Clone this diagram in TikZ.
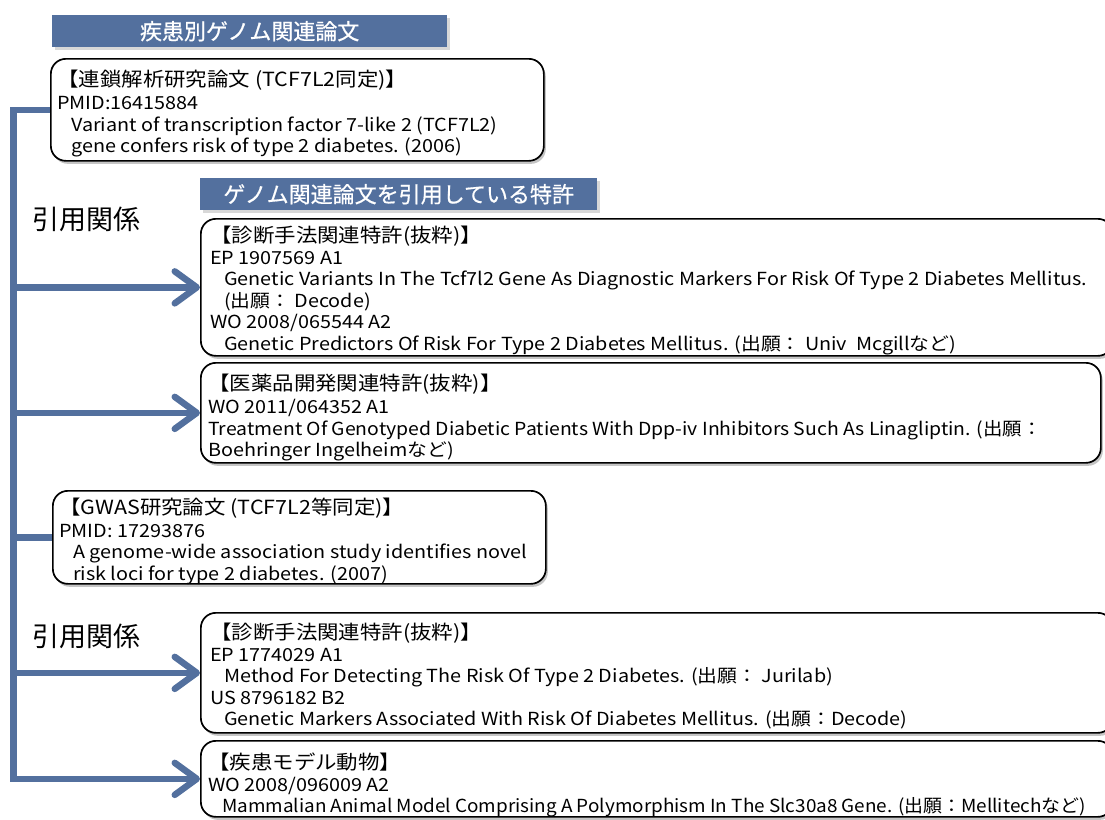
\documentclass[tikz,border=0pt]{standalone}
\usepackage{fontspec}
\usepackage{graphicx}
\setmainfont[FakeStretch=1.1]{Noto Sans CJK JP}
\newfontfamily\banfont[FakeBold=0.6]{Noto Sans CJK JP}
\newfontfamily\relfont{Noto Sans CJK JP}
\usetikzlibrary{arrows.meta,shadows}
\definecolor{navy}{HTML}{53709E}
\newcommand{\hd}[1]{{\fontsize{19.5}{21}\selectfont #1}}
\newcommand{\ind}{\hspace*{14pt}}
\begin{document}
\begin{tikzpicture}[x=1pt,y=-1pt,
  boxframe/.style={draw=black, line width=1.7pt, rounded corners=15pt, fill=white,
    drop shadow={shadow xshift=2pt,shadow yshift=-3pt,fill=black!45},
    anchor=north west, inner sep=0pt},
  banner/.style={fill=navy, text=white, anchor=north west, inner sep=0pt,
    font=\banfont\fontsize{22}{22}\selectfont,
    drop shadow={shadow xshift=3pt,shadow yshift=-3pt,fill=black!30}},
  body/.style={anchor=north west, inner sep=0pt, align=left,
    font=\fontsize{18}{21.5}\selectfont},
  rel/.style={anchor=center, inner sep=0pt, font=\relfont\fontsize{27}{27}\selectfont},
  link/.style={draw=navy, line width=6.5pt},
  arr/.style={link, -{Straight Barb[length=22pt,width=32pt,round]}}
]
\useasboundingbox (0,0) rectangle (1105,819);
\clip (0,0) rectangle (1105,819);

% banners
\node[banner, minimum width=395pt, minimum height=32pt] (ban1) at (52,15) {疾患別ゲノム関連論文};
\node[banner, minimum width=397pt, minimum height=32pt] (ban2) at (200,178) {ゲノム関連論文を引用している特許};

% boxes
\node[boxframe, minimum width=493pt, minimum height=102pt] (b1) at (50,58) {};
\node[boxframe, minimum width=912pt, minimum height=137pt] (b2) at (200,218) {};
\node[boxframe, minimum width=900pt, minimum height=100pt] (b3) at (200,362) {};
\node[boxframe, minimum width=493pt, minimum height=93pt] (b4) at (52,490) {};
\node[boxframe, minimum width=912pt, minimum height=120pt] (b5) at (200,612) {};
\node[boxframe, minimum width=912pt, minimum height=76pt] (b6) at (200,740) {};

% texts
\node[body] (t1) at (57,70) {\hd{【連鎖解析研究論文 (TCF7L2同定)】}\\[1.5pt]
PMID:16415884\\
\ind Variant of transcription factor 7-like 2 (TCF7L2)\\
\ind gene confers risk of type 2 diabetes. (2006)};

\node[body] (t2) at (210,226) {\hd{【診断手法関連特許(抜粋)】}\\
EP 1907569 A1\\
\ind Genetic Variants In The Tcf7l2 Gene As Diagnostic Markers For Risk Of Type 2 Diabetes Mellitus.\\
\ind (出願： Decode)\\
WO 2008/065544 A2\\
\ind Genetic Predictors Of Risk For Type 2 Diabetes Mellitus. (出願： Univ\ \ Mcgillなど)};

\node[body] (t3) at (208,374) {\hd{【医薬品開発関連特許(抜粋)】}\\[1.5pt]
WO 2011/064352 A1\\
\scalebox{0.98}[1]{Treatment Of Genotyped Diabetic Patients With Dpp-iv Inhibitors Such As Linagliptin. (出願：}\\
Boehringer Ingelheimなど)};

\node[body] (t4) at (59,498) {\hd{【GWAS研究論文 (TCF7L2等同定)】}\\[1pt]
PMID: 17293876\\
\ind A genome-wide association study identifies novel\\
\ind risk loci for type 2 diabetes. (2007)};

\node[body] (t5) at (210,623) {\hd{【診断手法関連特許(抜粋)】}\\
EP 1774029 A1\\
\ind Method For Detecting The Risk Of Type 2 Diabetes. (出願： Jurilab)\\
US 8796182 B2\\
\ind Genetic Markers Associated With Risk Of Diabetes Mellitus. (出願：Decode)};

\node[body] (t6) at (208,753) {\hd{【疾患モデル動物】}\\
WO 2008/096009 A2\\
\ind\scalebox{0.955}[1]{Mammalian Animal Model Comprising A Polymorphism In The Slc30a8 Gene. (出願：Mellitechなど)}};

% relation labels
\node[rel] (r1) at (86,219) {引用関係};
\node[rel] (r2) at (86,636) {引用関係};

% connectors
\coordinate (trunk) at (13.5,0);
\draw[arr] (b1.west) -| (b6.west -| trunk) -- (b6.west);
\draw[arr] (b2.west -| trunk) -- (b2.west);
\draw[arr] (b3.west -| trunk) -- (b3.west);
\draw[link] (b4.west -| trunk) -- (b4.west);
\draw[arr] (b5.west -| trunk) -- (b5.west);
\end{tikzpicture}
\end{document}
